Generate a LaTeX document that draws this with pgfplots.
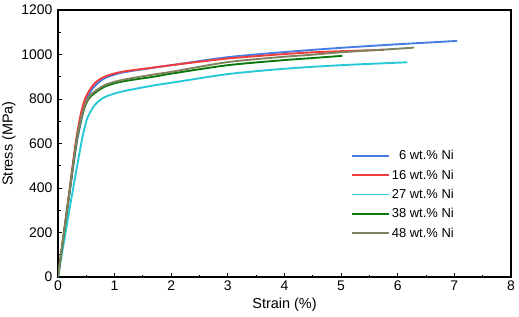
\documentclass[border=0pt]{standalone}
\usepackage{pgfplots}
\pgfplotsset{compat=1.18}
\usepackage{fontspec}
\setmainfont{Liberation Sans}
\definecolor{cblue}{RGB}{70,125,228}
\definecolor{cred}{RGB}{240,60,60}
\definecolor{ccyan}{RGB}{40,200,215}
\definecolor{cgreen}{RGB}{10,120,10}
\definecolor{colive}{RGB}{128,130,95}
\begin{document}
\begin{tikzpicture}
\begin{axis}[
  scale only axis,
  width=453bp, height=267bp,
  xmin=0, xmax=8, ymin=0, ymax=1200,
  xtick={0,1,...,8}, ytick={0,200,...,1200},
  minor x tick num=1, minor y tick num=1,
  tick align=inside,
  xtick pos=bottom, ytick pos=left,
  major tick length=4bp, minor tick length=2.5bp,
  every tick/.style={black, line width=1pt},
  axis line style={line width=1.5pt},
  /pgf/number format/assume math mode=true,
  /pgf/number format/1000 sep={},
  tick label style={font=\fontsize{14}{14}\selectfont},
  yticklabel style={xshift=-2bp},
  label style={font=\fontsize{14.5}{14.5}\selectfont},
  xlabel={Strain (\%)}, ylabel={Stress (MPa)},
  xlabel style={yshift=-1bp},
  ylabel style={yshift=-1bp},
  legend style={at={(0.64,0.49)}, anchor=north west, draw=none, fill=none,
    font=\fontsize{13}{13}\selectfont, row sep=4.5bp, cells={anchor=west}},
  legend image code/.code={\draw[#1, line width=1.9pt] (0cm,0cm) -- (1.3cm,0cm);},
  every axis plot/.append style={line width=1.9pt, smooth, tension=0.45},
]
\addplot[cblue] coordinates {(0,0) (0.2,370) (0.33,600) (0.42,715) (0.5,796) (0.58,836) (0.65,858) (0.82,893) (1.12,918) (1.62,938) (2,952) (3,988) (4,1011) (5,1030) (6,1046) (7.05,1061)};
\addlegendentry{\phantom{1}6 wt.\% Ni}
\addplot[cred] coordinates {(0,0) (0.2,385) (0.31,600) (0.4,730) (0.47,795) (0.53,828) (0.65,871) (0.82,900) (1.12,922) (1.62,939) (2,952) (3,982) (4,1002) (4.44,1009) (5,1015) (5.76,1021)};
\addlegendentry{16 wt.\% Ni}
\addplot[ccyan] coordinates {(0,0) (0.2,300) (0.41,600) (0.48,680) (0.53,722) (0.65,773) (0.82,808) (1.12,833) (1.71,862) (2,873) (3,912) (4,936) (5,952) (6.17,965)};
\addlegendentry{27 wt.\% Ni}
\addplot[cgreen] coordinates {(0,0) (0.2,375) (0.32,600) (0.42,720) (0.5,782) (0.59,815) (0.82,855) (1.12,878) (1.71,901) (2,914) (3,952) (4,975) (4.44,983) (5.02,994)};
\addlegendentry{38 wt.\% Ni}
\addplot[colive] coordinates {(0,0) (0.2,375) (0.32,600) (0.42,725) (0.5,788) (0.59,822) (0.82,862) (1.12,885) (1.71,911) (2,922) (3,966) (4,990) (4.44,998) (5,1010) (6,1026) (6.29,1031)};
\addlegendentry{48 wt.\% Ni}
\end{axis}
\pgfresetboundingbox
\path[use as bounding box] ([shift={(-58bp,-39bp)}]current axis.south west) rectangle ([shift={(8bp,10bp)}]current axis.north east);
\end{tikzpicture}
\end{document}
